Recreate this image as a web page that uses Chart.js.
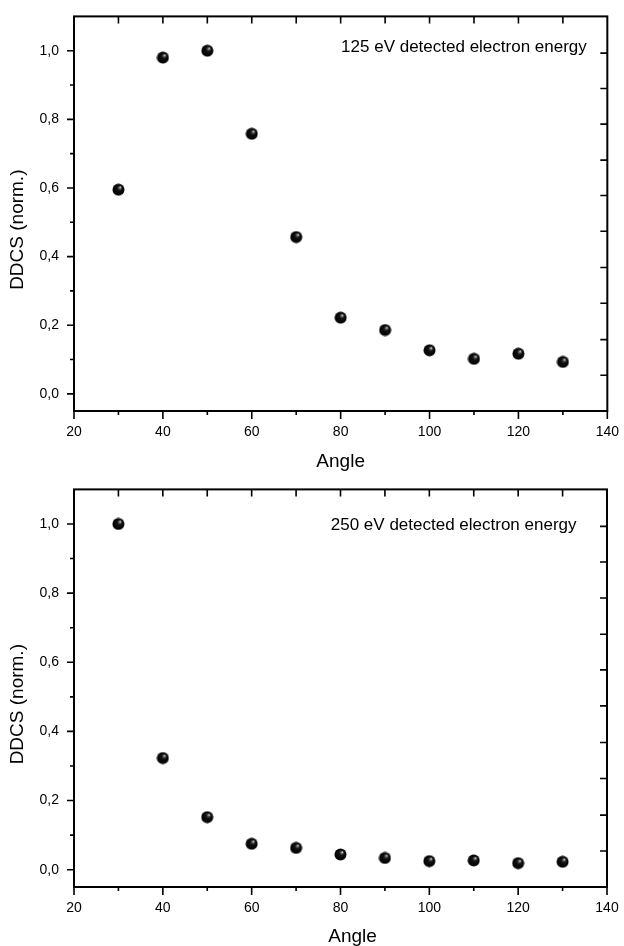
<!DOCTYPE html>
<html>
<head>
<meta charset="utf-8">
<script src="https://cdn.jsdelivr.net/npm/chart.js@4/dist/chart.umd.min.js"></script>
<style>
  html, body { margin: 0; padding: 0; background: #fff; }
  body { width: 624px; height: 946px; position: relative; overflow: hidden; }
  .box { position: absolute; left: 0; width: 624px; height: 473px; }
  canvas { display: block; }
</style>
</head>
<body>
<div class="box" style="top:0"><canvas id="c1" width="624" height="473"></canvas></div>
<div class="box" style="top:473px"><canvas id="c2" width="624" height="473"></canvas></div>
<script>
// ---- data ----
const angles = [30, 40, 50, 60, 70, 80, 90, 100, 110, 120, 130];
const ddcs125 = [0.595, 0.980, 1.000, 0.758, 0.457, 0.222, 0.186, 0.127, 0.102, 0.117, 0.093];
const ddcs250 = [1.000, 0.323, 0.152, 0.075, 0.063, 0.044, 0.034, 0.025, 0.027, 0.019, 0.023];
const label125 = '125 eV detected electron energy';
const label250 = '250 eV detected electron energy';
const xTitle = 'Angle';
const yTitle = 'DDCS (norm.)';
const xMajorTicks = [20, 40, 60, 80, 100, 120, 140];
const xMinorTicks = [30, 50, 70, 90, 110, 130];
const topTicks = [30, 40, 50, 60, 70, 80, 90, 100, 110, 120, 130];
const yMajorTicks = [0.0, 0.2, 0.4, 0.6, 0.8, 1.0];
const yMinorTicks = [0.1, 0.3, 0.5, 0.7, 0.9];
const rightTicks = [0.054, 0.158, 0.264, 0.368, 0.474, 0.578, 0.681, 0.786, 0.890, 0.993];

const FONT = '"Liberation Sans", Arial, Helvetica, sans-serif';

// glossy sphere marker
function makeSphere() {
  const c = document.createElement('canvas');
  c.width = 13; c.height = 13;
  const g = c.getContext('2d');
  const grad = g.createRadialGradient(8.4, 4.0, 0.2, 6.5, 6.5, 6.2);
  grad.addColorStop(0, '#f0f0f0');
  grad.addColorStop(0.14, '#6a6a6a');
  grad.addColorStop(0.38, '#111');
  grad.addColorStop(1, '#000');
  g.fillStyle = grad;
  g.beginPath();
  g.arc(6.5, 6.5, 6.0, 0, Math.PI * 2);
  g.fill();
  return c;
}
const sphere = makeSphere();

const framePlugin = {
  id: 'frame',
  afterDraw(chart, args, o) {
    const { ctx, chartArea: a, scales: { x, y } } = chart;
    ctx.save();
    ctx.strokeStyle = '#000';
    ctx.lineWidth = 2;
    ctx.strokeRect(a.left, a.top, a.right - a.left, a.bottom - a.top);
    ctx.lineWidth = 1.6;
    ctx.beginPath();
    yMajorTicks.forEach(v => { const p = y.getPixelForValue(v); ctx.moveTo(a.left - 7, p); ctx.lineTo(a.left, p); });
    yMinorTicks.forEach(v => { const p = y.getPixelForValue(v); ctx.moveTo(a.left - 4, p); ctx.lineTo(a.left, p); });
    xMajorTicks.forEach(v => { const p = x.getPixelForValue(v); ctx.moveTo(p, a.bottom); ctx.lineTo(p, a.bottom + 8); });
    xMinorTicks.forEach(v => { const p = x.getPixelForValue(v); ctx.moveTo(p, a.bottom); ctx.lineTo(p, a.bottom + 4); });
    topTicks.forEach(v => { const p = x.getPixelForValue(v); ctx.moveTo(p, a.top); ctx.lineTo(p, a.top + 7); });
    rightTicks.forEach(v => { const p = y.getPixelForValue(v); ctx.moveTo(a.right - 7, p); ctx.lineTo(a.right, p); });
    ctx.stroke();

    ctx.fillStyle = '#000';
    // annotation
    ctx.font = '17px ' + FONT;
    ctx.textAlign = 'right';
    ctx.textBaseline = 'middle';
    ctx.fillText(o.text, a.right + o.tdx, a.top + o.tdy);
    // x title
    ctx.font = '19px ' + FONT;
    ctx.textAlign = 'center';
    ctx.fillText(xTitle, (a.left + a.right) / 2 + o.xdx, o.xy);
    // y title
    ctx.save();
    ctx.translate(18, (a.top + a.bottom) / 2 + 16);
    ctx.rotate(-Math.PI / 2);
    ctx.fillText(yTitle, 0, 0);
    ctx.restore();
    ctx.restore();
  }
};

function makeChart(id, values, opts) {
  return new Chart(document.getElementById(id), {
    type: 'scatter',
    data: {
      datasets: [{
        data: angles.map((a, i) => ({ x: a, y: values[i] })),
        pointStyle: sphere,
        pointRadius: 6,
        pointHoverRadius: 6,
        showLine: false
      }]
    },
    options: {
      responsive: false,
      maintainAspectRatio: false,
      animation: false,
      events: [],
      layout: { padding: { left: 0, top: opts.top, right: opts.right, bottom: 0 } },
      plugins: {
        legend: { display: false },
        tooltip: { enabled: false },
        frame: opts.frame
      },
      scales: {
        x: {
          type: 'linear',
          min: 20, max: 140,
          afterBuildTicks: s => { s.ticks = xMajorTicks.map(v => ({ value: v })); },
          afterFit: s => { s.height = opts.xh; },
          grid: { display: true, drawOnChartArea: false, drawTicks: true, tickLength: 8, color: 'rgba(0,0,0,0)' },
          border: { display: false },
          ticks: { color: '#000', font: { family: FONT, size: 14 }, padding: 5, maxRotation: 0, autoSkip: false,
                   callback: v => String(v) }
        },
        y: {
          type: 'linear',
          min: -0.05, max: 1.1,
          afterBuildTicks: s => { s.ticks = yMajorTicks.map(v => ({ value: v })); },
          afterFit: s => { s.width = 74; },
          grid: { display: true, drawOnChartArea: false, drawTicks: true, tickLength: 7, color: 'rgba(0,0,0,0)' },
          border: { display: false },
          ticks: { color: '#000', font: { family: FONT, size: 14 }, padding: 8, autoSkip: false,
                   callback: v => v.toFixed(1).replace('.', ',') }
        }
      }
    },
    plugins: [framePlugin]
  });
}

makeChart('c1', ddcs125, { top: 13, right: 16, xh: 62,
  frame: { text: label125, tdx: -20.5, tdy: 30.5, xdx: 0, xy: 461.5 } });
makeChart('c2', ddcs250, { top: 16, right: 17, xh: 59,
  frame: { text: label250, tdx: -30.5, tdy: 36, xdx: 12, xy: 463.5 } });
</script>
</body>
</html>
